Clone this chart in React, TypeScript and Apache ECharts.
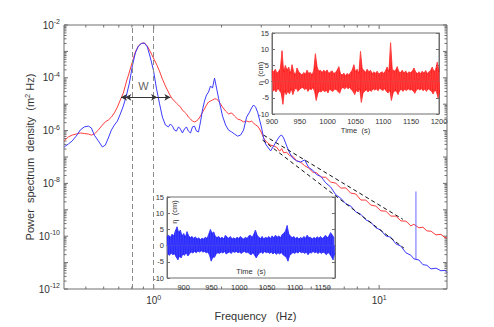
import React, { useEffect, useRef } from 'react';
import * as echarts from 'echarts';

// ---------- main spectrum data ----------
const freqHz = [
  0.401, 0.418, 0.435, 0.453, 0.472, 0.492, 0.513, 0.529, 0.545, 0.568,
  0.592, 0.610, 0.629, 0.649, 0.669, 0.690, 0.711, 0.733, 0.756, 0.780,
  0.804, 0.829, 0.855, 0.882, 0.909, 0.937, 0.967, 0.997, 1.028, 1.060,
  1.093, 1.127, 1.162, 1.186, 1.211, 1.236, 1.261, 1.288, 1.314, 1.341,
  1.369, 1.397, 1.426, 1.456, 1.486, 1.517, 1.548, 1.580, 1.613, 1.646,
  1.680, 1.715, 1.751, 1.786, 1.823, 1.861, 1.900, 1.939, 1.979, 2.020,
  2.084, 2.148, 2.215, 2.284, 2.355, 2.428, 2.504, 2.582, 2.662, 2.718,
  2.774, 2.831, 2.890, 2.950, 3.011, 3.073, 3.137, 3.202, 3.302, 3.404,
  3.510, 3.620, 3.695, 3.771, 3.889, 4.010, 4.135, 4.308, 4.487, 4.675,
  4.870, 5.074, 5.286, 5.507, 5.796, 6.100, 6.420, 6.757, 7.112, 7.485,
  7.878, 8.293, 8.729, 9.186, 9.668, 10.18, 10.71, 11.27, 11.87, 12.49,
  13.15, 13.83, 14.26, 15.01, 15.64, 16.29, 16.98, 17.87, 18.80, 19.59,
  20.0,
];

// log10 of PSD (m^2/Hz)
const redLogPsd = [
  -6.39, -6.24, -6.17, -6.13, -6.09, -6.11, -6.13, -6.17, -6.13, -5.98,
  -5.79, -5.67, -5.60, -5.49, -5.33, -5.11, -4.84, -4.58, -4.16, -3.78,
  -3.40, -3.02, -2.80, -2.70, -2.68, -2.80, -3.02, -3.25, -3.48, -3.74,
  -4.05, -4.31, -4.54, -4.69, -4.80, -4.88, -4.96, -5.03, -5.11, -5.22,
  -5.30, -5.37, -5.49, -5.56, -5.64, -5.67, -5.64, -5.56, -5.45, -5.30,
  -5.18, -5.03, -4.92, -4.88, -4.84, -4.80, -4.80, -4.88, -4.99, -5.11,
  -5.26, -5.37, -5.33, -5.45, -5.56, -5.60, -5.67, -5.64, -5.67, -5.64,
  -5.71, -5.79, -5.83, -5.94, -6.09, -6.28, -6.39, -6.47, -6.55, -6.58,
  -6.63, -6.78, -6.68, -6.84, -6.82, -6.95, -6.97, -7.14, -7.20, -7.33,
  -7.42, -7.57, -7.60, -7.76, -7.77, -7.95, -7.99, -8.18, -8.17, -8.37,
  -8.40, -8.63, -8.63, -8.82, -8.86, -9.04, -9.05, -9.24, -9.24, -9.42,
  -9.43, -9.61, -9.55, -9.68, -9.66, -9.80, -9.81, -9.95, -9.93, -10.06,
  -10.05,
];

const blueLogPsd = [
  -6.62, -6.51, -6.39, -6.21, -5.98, -5.86, -5.83, -5.90, -6.17, -6.39,
  -6.62, -6.55, -6.28, -5.98, -5.79, -5.64, -5.37, -5.07, -4.69, -4.20,
  -3.55, -3.06, -2.80, -2.70, -2.68, -2.83, -3.25, -3.71, -4.39, -4.96,
  -5.49, -5.79, -5.86, -5.75, -5.83, -5.98, -6.02, -5.86, -5.94, -6.09,
  -5.94, -5.86, -6.02, -6.09, -5.86, -5.83, -6.02, -6.05, -5.67, -5.22,
  -4.88, -4.65, -4.54, -4.31, -4.39, -4.01, -4.39, -4.77, -5.11, -5.45,
  -5.79, -5.98, -6.05, -6.13, -6.21, -6.17, -5.98, -5.49, -5.30, -5.14,
  -5.03, -5.11, -5.30, -5.60, -5.90, -6.28, -6.51, -6.62, -6.77, -6.58,
  -6.39, -6.21, -6.17, -6.28, -6.58, -6.85, -7.04, -7.15, -7.19, -7.11,
  -7.40, -7.50, -7.67, -7.73, -7.98, -8.14, -8.43, -8.56, -8.77, -8.86,
  -9.08, -9.17, -9.38, -9.47, -9.68, -9.77, -9.99, -10.04, -10.29, -10.38,
  -10.63, -10.72, -10.86, -10.90, -11.08, -11.10, -11.24, -11.21, -11.31, -11.29,
  -11.38,
];

const spikeFreqHz = 14.56;
const spikeLogPsd = [-10.88, -8.31];

const fitUpper = [[3.07, -6.17], [12.74, -9.36]];
const fitLower = [[3.04, -6.36], [12.88, -10.45]];

const peakMarkersHz = [0.804, 1.0];
const widthRed = [0.716, 1.186];
const widthBlue = [0.748, 1.035];
const widthLevel = -4.74;
const widthLabelPos = [0.9, -4.31];

// axis ticks
const xMajorTicks = [1, 10];
const xMinorTicks = [0.5, 0.6, 0.7, 0.8, 0.9, 2, 3, 4, 5, 6, 7, 8, 9];
const yDecades = [-12, -11, -10, -9, -8, -7, -6, -5, -4, -3, -2];
const yMinorMultipliers = [2, 3, 4, 5, 6, 7, 8, 9];

// ---------- inset time series (envelope maxima / minima, cm) ----------
const redTimeStart = 900;
const redTimeStep = 3;
const redUpper = [
  3.5, 3.0, 3.8, 2.5, 3.2, 4.0, 9.5, 3.0, 5.0, 3.5,
  4.5, 2.5, 5.2, 3.0, 2.0, 4.2, 3.0, 2.5, 2.0, 2.8,
  2.3, 3.5, 2.5, 2.8, 2.0, 3.5, 8.6, 4.5, 3.2, 3.5,
  2.8, 3.5, 3.0, 3.6, 2.5, 3.0, 3.3, 2.5, 2.8, 3.5,
  4.6, 2.5, 2.0, 2.6, 1.8, 2.5, 2.0, 2.8, 3.5, 5.2,
  3.0, 3.8, 2.5, 9.3, 4.0, 3.5, 2.8, 3.8, 3.0, 3.5,
  2.5, 3.0, 2.6, 3.2, 2.3, 2.8, 3.0, 2.5, 3.4, 4.5,
  3.0, 12.0, 4.0, 3.2, 3.5, 4.6, 3.0, 2.8, 3.5, 2.6,
  3.3, 2.5, 3.0, 2.8, 3.2, 4.2, 3.0, 2.5, 3.0, 2.5,
  3.2, 2.6, 3.4, 2.5, 3.0, 3.5, 4.5, 3.0, 3.8, 6.0,
  3.0,
];
const redLower = [
  -3.0, -2.5, -3.2, -2.0, -2.8, -3.5, -7.0, -2.8, -4.0, -3.0,
  -3.8, -2.2, -4.0, -2.5, -2.0, -3.0, -2.4, -2.0, -1.8, -2.5,
  -2.0, -3.0, -2.2, -2.5, -1.8, -3.0, -5.8, -3.5, -3.0, -3.2,
  -2.5, -3.2, -2.6, -3.5, -2.2, -2.8, -3.0, -2.3, -2.5, -3.0,
  -3.6, -2.2, -1.8, -2.3, -1.6, -2.2, -1.8, -2.5, -3.0, -4.0,
  -2.7, -3.2, -2.2, -6.4, -3.5, -3.0, -2.5, -3.2, -2.6, -3.0,
  -2.2, -2.6, -2.3, -2.8, -2.0, -2.5, -2.7, -2.2, -3.0, -3.5,
  -2.6, -5.8, -3.5, -2.8, -3.0, -4.0, -2.6, -2.5, -3.0, -2.3,
  -2.8, -2.2, -2.6, -2.5, -2.8, -3.6, -2.6, -2.2, -2.6, -2.2,
  -2.8, -2.3, -3.0, -2.2, -2.6, -3.0, -3.8, -2.6, -3.2, -5.0,
  -2.6,
];

const blueTimeStart = 870;
const blueTimeStep = 3;
const blueUpper = [
  2.8, 3.2, 2.5, 3.5, 3.0, 4.5, 5.8, 4.0, 4.8, 3.0,
  3.7, 2.6, 4.3, 3.0, 2.5, 2.8, 2.2, 2.7, 2.0, 2.4,
  1.8, 2.3, 2.0, 2.6, 2.2, 3.5, 5.0, 3.8, 4.2, 2.8,
  2.5, 2.8, 2.2, 2.6, 2.0, 3.2, 2.6, 2.3, 2.8, 2.0,
  2.4, 2.0, 2.6, 2.2, 2.8, 2.3, 2.0, 2.6, 2.2, 3.0,
  3.2, 2.5, 3.5, 4.8, 3.2, 2.6, 2.2, 2.8, 2.0, 2.6,
  2.3, 2.8, 2.2, 3.0, 2.4, 3.2, 2.6, 3.0, 2.4, 3.4,
  3.8, 4.5, 6.2, 3.5, 3.0, 2.4, 2.8, 2.2, 2.6, 2.0,
  2.5, 2.2, 2.8, 2.3, 3.2, 2.4, 2.6, 2.0, 2.5, 2.2,
  2.7, 2.3, 2.8, 2.2, 2.6, 3.2, 2.4, 3.0, 4.0, 3.3,
  2.5,
];
const blueLower = [
  -2.6, -3.0, -2.3, -2.8, -2.5, -3.5, -4.4, -3.2, -3.8, -2.6,
  -3.0, -2.2, -3.2, -2.5, -2.0, -2.3, -1.8, -2.2, -1.7, -2.0,
  -1.6, -2.0, -1.8, -2.2, -2.0, -3.0, -4.8, -3.5, -3.6, -2.5,
  -2.2, -2.4, -2.0, -2.3, -1.8, -2.6, -2.2, -2.0, -2.4, -1.8,
  -2.1, -1.8, -2.2, -2.0, -2.4, -2.0, -1.8, -2.2, -2.0, -2.6,
  -2.8, -2.2, -3.0, -3.8, -2.8, -2.3, -2.0, -2.4, -1.8, -2.2,
  -2.0, -2.4, -2.0, -2.6, -2.1, -2.7, -2.2, -2.6, -2.1, -2.8,
  -3.2, -3.6, -4.8, -3.0, -2.6, -2.1, -2.4, -2.0, -2.3, -1.8,
  -2.2, -2.0, -2.4, -2.0, -2.8, -2.1, -2.3, -1.8, -2.2, -2.0,
  -2.4, -2.0, -2.4, -2.0, -2.3, -2.8, -2.1, -2.6, -3.4, -4.4,
  -2.3,
];

const inset2XTicks = [900, 950, 1000, 1050, 1100, 1150];

// ---------- styling ----------
const FONT = '"Liberation Sans", Arial, Helvetica, sans-serif';
const TXT = '#333333';
const AX = '#6e6e6e';
const X_MIN = 0.4, X_MAX = 20, Y_MIN = -12, Y_MAX = -2;

function envelope(t0: number, step: number, vals: number[], shift: number) {
  return vals.map((v, i) => [t0 + i * step + shift, v]);
}
function zigzag(t0: number, step: number, upper: number[], lower: number[]) {
  const out: number[][] = [];
  const n = Math.min(upper.length, lower.length);
  for (let i = 0; i < n; i++) {
    const t = t0 + i * step;
    out.push([t, upper[i]]);
    out.push([t + step / 2, lower[i]]);
  }
  return out;
}

const powRich = {
  b: { fontSize: 10, color: TXT, fontFamily: FONT, lineHeight: 11 },
  e: { fontSize: 7, color: TXT, fontFamily: FONT, lineHeight: 8, padding: [0, 0, 7, 0] },
};

function bandSeries(name: string, xIdx: number, yIdx: number, color: string, data: number[][]) {
  return {
    name, type: 'line', xAxisIndex: xIdx, yAxisIndex: yIdx, data,
    showSymbol: false, symbol: 'none', clip: true,
    lineStyle: { color, width: 0.7 },
    areaStyle: { color, opacity: 1, origin: 0 }, z: 6,
  };
}

function buildOption() {
  const red = freqHz.map((f, i) => [f, redLogPsd[i]]);
  const blue = freqHz.map((f, i) => [f, blueLogPsd[i]]);

  const xTickData = [
    ...xMajorTicks.map((f) => [f, Y_MIN, 4]),
    ...xMinorTicks.map((f) => [f, Y_MIN, 2.5]),
  ];
  const yTickData: number[][] = [];
  yDecades.forEach((d) => {
    yTickData.push([X_MIN, d, 4]);
    if (d < Y_MAX) yMinorMultipliers.forEach((m) => yTickData.push([X_MIN, d + Math.log10(m), 2.5]));
  });

  const tickLine = (x1: number, y1: number, x2: number, y2: number) => ({
    type: 'line',
    shape: { x1, y1, x2, y2 },
    style: { stroke: AX, lineWidth: 1 },
  });

  const insetAxisCommon = {
    axisLine: { show: true, lineStyle: { color: AX, width: 1 } },
    axisTick: { show: true, inside: true, length: 3, lineStyle: { color: AX } },
    splitLine: { show: false },
  };
  const insetLabel = { fontSize: 7.5, color: TXT, fontFamily: FONT };
  const plain = (v: number) => String(v);

  const RED = '#ff1414';
  const BLUE = '#1414ff';

  return {
    animation: false,
    textStyle: { fontFamily: FONT },
    grid: [
      { left: 64, top: 25, width: 383, height: 264, show: true, borderColor: AX, borderWidth: 1 },
      { left: 272, top: 33, width: 167, height: 81, show: true, borderColor: AX, borderWidth: 1, backgroundColor: '#fff' },
      { left: 167, top: 197, width: 168, height: 81, show: true, borderColor: AX, borderWidth: 1, backgroundColor: '#fff' },
    ],
    xAxis: [
      {
        gridIndex: 0, type: 'log', logBase: 10, min: X_MIN, max: X_MAX,
        axisLine: { show: false }, axisTick: { show: false }, splitLine: { show: false },
        axisLabel: {
          margin: 6,
          formatter: (v: number) => {
            const e = Math.log10(v);
            if (Math.abs(e - Math.round(e)) > 1e-6) return '';
            return `{b|10}{e|${Math.round(e)}}`;
          },
          rich: powRich,
        },
        name: 'Frequency   (Hz)', nameLocation: 'middle', nameGap: 21, nameMoveOverlap: false,
        nameTextStyle: { fontSize: 11, color: TXT, fontFamily: FONT },
      },
      {
        gridIndex: 1, type: 'value', min: 900, max: 1200, interval: 50, ...insetAxisCommon,
        axisLabel: { ...insetLabel, margin: 3, formatter: plain },
        name: 'Time  (s)', nameLocation: 'middle', nameGap: 12,
        nameTextStyle: { ...insetLabel },
      },
      {
        gridIndex: 1, type: 'value', position: 'top', min: 900, max: 1200, interval: 50, ...insetAxisCommon,
        axisLabel: { show: false },
      },
      {
        gridIndex: 2, type: 'value', min: 870, max: 1172, ...insetAxisCommon,
        axisTick: { ...insetAxisCommon.axisTick, customValues: inset2XTicks },
        axisLabel: { ...insetLabel, margin: 5, customValues: inset2XTicks, formatter: plain },
      },
      {
        gridIndex: 2, type: 'value', position: 'top', min: 870, max: 1172, ...insetAxisCommon,
        axisTick: { ...insetAxisCommon.axisTick, customValues: inset2XTicks },
        axisLabel: { show: false },
      },
    ],
    yAxis: [
      {
        gridIndex: 0, type: 'value', min: Y_MIN, max: Y_MAX, interval: 2,
        axisLine: { show: false }, axisTick: { show: false }, splitLine: { show: false },
        axisLabel: { margin: 4, formatter: (v: number) => `{b|10}{e|${v}}`, rich: powRich },
        name: '{a|Power  spectrum  density  (m}{s|2}{a| Hz)}', nameLocation: 'middle', nameGap: 28,
        nameMoveOverlap: false,
        nameTextStyle: {
          rich: {
            a: { fontSize: 11, color: TXT, fontFamily: FONT, lineHeight: 12 },
            s: { fontSize: 7.5, color: TXT, fontFamily: FONT, lineHeight: 8, padding: [0, 0, 6, 0] },
          },
        },
      },
      {
        gridIndex: 1, type: 'value', min: -10, max: 15, interval: 5, ...insetAxisCommon,
        axisLabel: { ...insetLabel, margin: 3, formatter: plain },
        name: 'η  (cm)', nameLocation: 'middle', nameGap: 8, nameRotate: 90, nameMoveOverlap: false,
        nameTextStyle: { ...insetLabel },
      },
      {
        gridIndex: 1, type: 'value', position: 'right', min: -10, max: 15, interval: 5, ...insetAxisCommon,
        axisLabel: { show: false },
      },
      {
        gridIndex: 2, type: 'value', min: -10, max: 15, interval: 5, ...insetAxisCommon,
        axisLabel: { ...insetLabel, margin: 3, formatter: plain },
      },
      {
        gridIndex: 2, type: 'value', position: 'right', min: -10, max: 15, interval: 5, ...insetAxisCommon,
        axisLabel: { show: false },
      },
    ],
    graphic: [
      {
        type: 'text', x: 251, y: 271, z: 100,
        style: { text: 'Time  (s)', fontSize: 7.5, fill: TXT, fontFamily: FONT, align: 'center', verticalAlign: 'middle' },
      },
      {
        type: 'text', x: 174.5, y: 212, rotation: Math.PI / 2, z: 100,
        style: { text: 'η  (cm)', fontSize: 7.5, fill: TXT, fontFamily: FONT, align: 'center', verticalAlign: 'middle' },
      },
    ],
    series: [
      {
        type: 'custom', xAxisIndex: 0, yAxisIndex: 0, data: xTickData, encode: { x: 0, y: 1 }, silent: true, z: 1,
        renderItem: (_p: any, api: any) => {
          const f = api.value(0), len = api.value(2);
          const b = api.coord([f, Y_MIN]);
          const t = api.coord([f, Y_MAX]);
          return { type: 'group', children: [tickLine(b[0], b[1], b[0], b[1] - len), tickLine(t[0], t[1], t[0], t[1] + len)] };
        },
      },
      {
        type: 'custom', xAxisIndex: 0, yAxisIndex: 0, data: yTickData, encode: { x: 0, y: 1 }, silent: true, z: 1,
        renderItem: (_p: any, api: any) => {
          const e = api.value(1), len = api.value(2);
          const l = api.coord([X_MIN, e]);
          const r = api.coord([X_MAX, e]);
          return { type: 'group', children: [tickLine(l[0], l[1], l[0] + len, l[1]), tickLine(r[0], r[1], r[0] - len, r[1])] };
        },
      },
      {
        name: 'red', type: 'line', xAxisIndex: 0, yAxisIndex: 0, data: red, showSymbol: false, symbol: 'none',
        lineStyle: { color: '#ff3b3b', width: 1 }, z: 3,
        markLine: {
          silent: true, symbol: 'none', label: { show: false },
          lineStyle: { color: '#8a8a8a', width: 1, type: [5, 3] },
          data: peakMarkersHz.map((f) => ({ xAxis: f })),
        },
      },
      {
        name: 'blue', type: 'line', xAxisIndex: 0, yAxisIndex: 0, data: blue, showSymbol: false, symbol: 'none',
        lineStyle: { color: '#3b3bff', width: 1 }, z: 3,
      },
      {
        name: 'spike', type: 'line', xAxisIndex: 0, yAxisIndex: 0,
        data: spikeLogPsd.map((v) => [spikeFreqHz, v]), showSymbol: false, symbol: 'none',
        lineStyle: { color: 'rgba(90,90,255,0.75)', width: 1.2 }, z: 3,
      },
      {
        name: 'fitUpper', type: 'line', xAxisIndex: 0, yAxisIndex: 0, data: fitUpper, showSymbol: false, symbol: 'none',
        lineStyle: { color: '#111', width: 1, type: [4, 3] }, z: 4,
      },
      {
        name: 'fitLower', type: 'line', xAxisIndex: 0, yAxisIndex: 0, data: fitLower, showSymbol: false, symbol: 'none',
        lineStyle: { color: '#111', width: 1, type: [4, 3] }, z: 4,
      },
      {
        name: 'W', type: 'scatter', xAxisIndex: 0, yAxisIndex: 0, data: [widthLabelPos], symbolSize: 0, z: 5,
        label: { show: true, position: 'inside', formatter: 'W', fontSize: 11, color: TXT, fontFamily: FONT },
        markLine: {
          silent: true, symbol: ['arrow', 'arrow'], symbolSize: [5, 6], label: { show: false },
          lineStyle: { color: '#333', width: 1, type: 'solid' },
          data: [
            [{ coord: [widthRed[0], widthLevel] }, { coord: [widthRed[1], widthLevel] }],
            [{ coord: [widthBlue[0], widthLevel] }, { coord: [widthBlue[1], widthLevel] }],
          ],
        },
      },
      bandSeries('etaRedUp', 1, 1, RED, envelope(redTimeStart, redTimeStep, redUpper, 0)),
      bandSeries('etaRedLow', 1, 1, RED, envelope(redTimeStart, redTimeStep, redLower, redTimeStep / 2)),
      {
        name: 'etaRed', type: 'line', xAxisIndex: 1, yAxisIndex: 1,
        data: zigzag(redTimeStart, redTimeStep, redUpper, redLower),
        showSymbol: false, symbol: 'none', clip: true,
        lineStyle: { color: '#ff5555', width: 0.5 }, z: 7,
      },
      bandSeries('etaBlueUp', 3, 3, BLUE, envelope(blueTimeStart, blueTimeStep, blueUpper, 0)),
      bandSeries('etaBlueLow', 3, 3, BLUE, envelope(blueTimeStart, blueTimeStep, blueLower, blueTimeStep / 2)),
      {
        name: 'etaBlue', type: 'line', xAxisIndex: 3, yAxisIndex: 3,
        data: zigzag(blueTimeStart, blueTimeStep, blueUpper, blueLower),
        showSymbol: false, symbol: 'none', clip: true,
        lineStyle: { color: '#5555ff', width: 0.5 }, z: 7,
      },
    ],
  };
}

export default function App() {
  const ref = useRef<HTMLDivElement>(null);
  useEffect(() => {
    if (!ref.current) return;
    const chart = echarts.init(ref.current, undefined, { renderer: 'svg' });
    chart.setOption(buildOption() as any);
    return () => chart.dispose();
  }, []);
  return (
    <div
      ref={ref}
      style={{ position: 'fixed', left: 0, top: 0, width: 494, height: 327, background: '#fff' }}
    />
  );
}
